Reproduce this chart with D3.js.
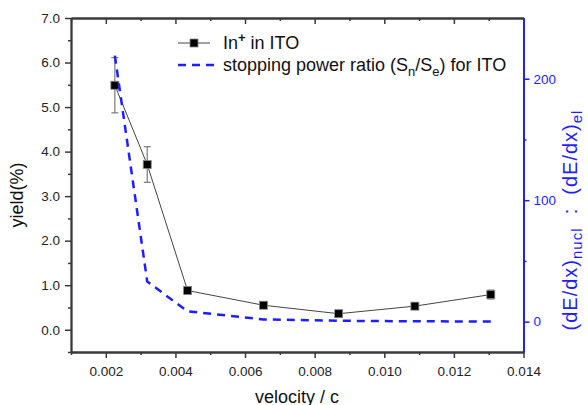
<!DOCTYPE html>
<html><head><meta charset="utf-8">
<script src="https://cdn.jsdelivr.net/npm/d3@7"></script>
<style>
body{margin:0;background:#fff}
svg{font-family:"Liberation Sans",Arial,sans-serif;display:block}
</style></head><body>
<svg id="chart" width="588" height="405"></svg>
<script>
// In+ sputter yield from ITO vs. projectile velocity
const velocity = [0.00226, 0.00319, 0.00435, 0.00653, 0.00869, 0.01088, 0.01306];
const yieldPct = [5.49, 3.71, 0.88, 0.55, 0.36, 0.53, 0.79];
const yieldErr = [0.62, 0.40, 0.08, 0.05, 0.04, 0.05, 0.10];
// nuclear : electronic stopping power ratio (right axis)
const stoppingRatio = [219, 33, 8.5, 1.8, 0.7, 0.3, 0.1];

const xMajor = [0.002, 0.004, 0.006, 0.008, 0.010, 0.012, 0.014];
const xMinor = [0.001, 0.003, 0.005, 0.007, 0.009, 0.011, 0.013];
const yMajor = [0, 1, 2, 3, 4, 5, 6, 7];
const yMinor = [-0.5, 0.5, 1.5, 2.5, 3.5, 4.5, 5.5, 6.5];
const rMajor = [0, 100, 200];
const rMinor = [50, 150];

const axisGray = "#3a3a3a";
const blue = "#1e1eff";

const svg = d3.select("#chart");
const x = d3.scaleLinear().domain([0.001, 0.014]).range([71, 523.5]);
const yL = d3.scaleLinear().domain([-0.5, 7]).range([352, 18]);
const yR = d3.scaleLinear().domain([-25, 250]).range([352, 18]);

function styleAxis(g, color) {
  g.selectAll("path.domain").attr("stroke", color).attr("stroke-width", 1.8);
  g.selectAll(".tick line").attr("stroke", color).attr("stroke-width", 1.5);
  g.selectAll(".tick text").attr("fill", color === blue ? blue : "#222")
    .style("font-size", "13.5px").style("font-family", '"Liberation Sans",Arial,sans-serif');
}

// bottom axis
const gB = svg.append("g").attr("transform", "translate(0,352)");
gB.call(d3.axisBottom(x).tickValues(xMajor).tickSize(6).tickSizeOuter(0)
  .tickPadding(8).tickFormat(d3.format(".3f")));
styleAxis(gB, axisGray);
const gBm = svg.append("g").attr("transform", "translate(0,352)");
gBm.call(d3.axisBottom(x).tickValues(xMinor).tickSize(3).tickSizeOuter(0).tickFormat(""));
styleAxis(gBm, axisGray);

// top axis, ticks pointing inward
const gT = svg.append("g").attr("transform", "translate(0,18)");
gT.call(d3.axisBottom(x).tickValues(xMajor).tickSize(6).tickSizeOuter(0).tickFormat(""));
styleAxis(gT, axisGray);
const gTm = svg.append("g").attr("transform", "translate(0,18)");
gTm.call(d3.axisBottom(x).tickValues(xMinor).tickSize(3).tickSizeOuter(0).tickFormat(""));
styleAxis(gTm, axisGray);

// left axis
const gL = svg.append("g").attr("transform", "translate(71,0)");
gL.call(d3.axisLeft(yL).tickValues(yMajor).tickSize(6).tickSizeOuter(0)
  .tickPadding(5).tickFormat(d3.format(".1f")));
styleAxis(gL, axisGray);
const gLm = svg.append("g").attr("transform", "translate(71,0)");
gLm.call(d3.axisLeft(yL).tickValues(yMinor).tickSize(3).tickSizeOuter(0).tickFormat(""));
styleAxis(gLm, axisGray);

// yield series: line, error bars, square markers
const pts = velocity.map((v, i) => ({v, y: yieldPct[i], e: yieldErr[i], r: stoppingRatio[i]}));
svg.append("path").datum(pts)
  .attr("d", d3.line().x(d => x(d.v)).y(d => yL(d.y)))
  .attr("fill", "none").attr("stroke", "#444").attr("stroke-width", 1);

const eb = svg.append("g").attr("stroke", "#7a7a7a").attr("stroke-width", 1.2);
pts.forEach(d => {
  const cx = x(d.v), y0 = yL(d.y - d.e), y1 = yL(d.y + d.e);
  eb.append("line").attr("x1", cx).attr("x2", cx).attr("y1", y0).attr("y2", y1);
  eb.append("line").attr("x1", cx - 3.5).attr("x2", cx + 3.5).attr("y1", y0).attr("y2", y0);
  eb.append("line").attr("x1", cx - 3.5).attr("x2", cx + 3.5).attr("y1", y1).attr("y2", y1);
});

svg.append("g").selectAll("rect").data(pts).join("rect")
  .attr("x", d => x(d.v) - 4).attr("y", d => yL(d.y) - 4)
  .attr("width", 8).attr("height", 8)
  .attr("fill", "#000").attr("stroke", "#888").attr("stroke-width", 0.8);

// stopping power ratio on the right scale
svg.append("path").datum(pts)
  .attr("d", d3.line().x(d => x(d.v)).y(d => yR(d.r)))
  .attr("fill", "none").attr("stroke", blue).attr("stroke-width", 2.5)
  .attr("stroke-dasharray", "8,6");

// right axis (blue)
const gR = svg.append("g").attr("transform", "translate(523.5,0)");
gR.call(d3.axisRight(yR).tickValues(rMajor).tickSize(6).tickSizeOuter(0).tickPadding(4));
styleAxis(gR, blue);
const gRm = svg.append("g").attr("transform", "translate(523.5,0)");
gRm.call(d3.axisRight(yR).tickValues(rMinor).tickSize(3).tickSizeOuter(0).tickFormat(""));
styleAxis(gRm, blue);

// legend
const lg = svg.append("g").style("font-size", "18px").attr("fill", "#111");
lg.append("line").attr("x1", 178).attr("x2", 210).attr("y1", 43).attr("y2", 43)
  .attr("stroke", "#444").attr("stroke-width", 1);
lg.append("rect").attr("x", 194 - 4).attr("y", 43 - 4).attr("width", 8).attr("height", 8)
  .attr("fill", "#000").attr("stroke", "#888").attr("stroke-width", 0.8);
const t1 = lg.append("text").attr("x", 223).attr("y", 49);
t1.append("tspan").text("In");
t1.append("tspan").attr("dy", -7).style("font-size", "13px").style("font-weight", "bold").text("+");
t1.append("tspan").attr("dy", 7).text(" in ITO");

lg.append("line").attr("x1", 178).attr("x2", 220).attr("y1", 65).attr("y2", 65)
  .attr("stroke", blue).attr("stroke-width", 2.5).attr("stroke-dasharray", "8,6");
const t2 = lg.append("text").attr("x", 223).attr("y", 71);
t2.append("tspan").text("stopping power ratio (S");
t2.append("tspan").attr("dy", 5).style("font-size", "13px").text("n");
t2.append("tspan").attr("dy", -5).text("/S");
t2.append("tspan").attr("dy", 5).style("font-size", "13px").text("e");
t2.append("tspan").attr("dy", -5).text(") for ITO");

// axis titles
svg.append("text").attr("transform", "translate(23,195) rotate(-90)")
  .attr("text-anchor", "middle").style("font-size", "18px").attr("fill", "#111")
  .text("yield(%)");
svg.append("text").attr("x", 297).attr("y", 403)
  .attr("text-anchor", "middle").style("font-size", "18px").attr("fill", "#111")
  .text("velocity / c");

const rt = svg.append("text").attr("transform", "translate(577,220) rotate(-90)")
  .attr("text-anchor", "middle").style("font-size", "20px").style("letter-spacing", "1px")
  .attr("fill", blue).attr("xml:space", "preserve");
rt.append("tspan").text("(dE/dx)");
rt.append("tspan").attr("dy", 5).style("font-size", "15px").text("nucl");
rt.append("tspan").attr("dy", -5).text("  :  (dE/dx)");
rt.append("tspan").attr("dy", 5).style("font-size", "15px").text("el");
</script>
</body></html>
